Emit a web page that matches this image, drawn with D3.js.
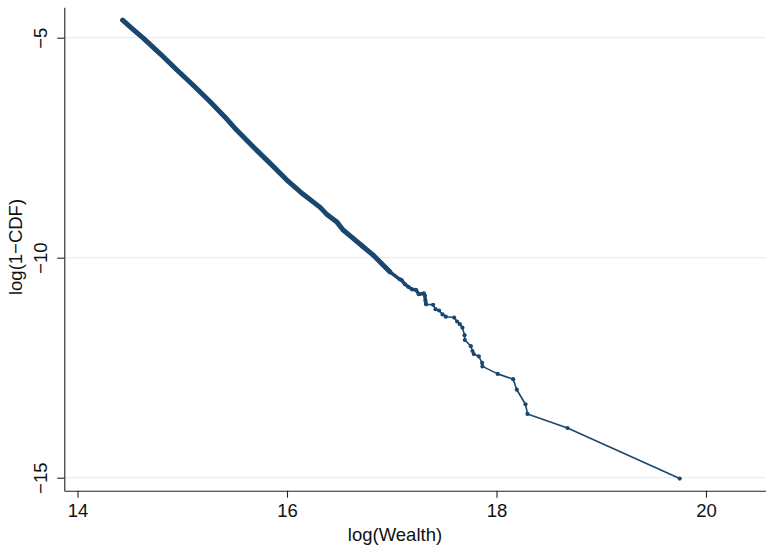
<!DOCTYPE html>
<html>
<head>
<meta charset="utf-8">
<script src="https://cdn.jsdelivr.net/npm/d3@7"></script>
<style>
  html, body { margin: 0; padding: 0; background: #fff; }
  svg { display: block; font-family: "Liberation Sans", Arial, Helvetica, sans-serif; }
</style>
</head>
<body>
<svg id="chart" width="766" height="546"></svg>
<script>
// log(Wealth) vs log(1-CDF)
const logWealth = [
  14.431, 14.53, 14.628, 14.787, 14.947, 15.105, 15.264, 15.407, 15.519,
  15.677, 15.837, 15.996, 16.155, 16.314, 16.378, 16.473, 16.536, 16.632,
  16.727, 16.823, 16.903, 16.982, 17.077, 17.094, 17.125, 17.157, 17.195, 17.23,
  17.259, 17.306, 17.316, 17.322, 17.328, 17.395, 17.418, 17.452, 17.485, 17.516,
  17.596, 17.624, 17.65, 17.675, 17.695, 17.698, 17.755, 17.771, 17.783, 17.831,
  17.863, 17.866, 18.012, 18.159, 18.194, 18.277, 18.296, 18.678, 19.749
]
const logSurvival = [
  -4.6, -4.81, -5.01, -5.36, -5.73, -6.08, -6.45, -6.8, -7.1,
  -7.48, -7.85, -8.23, -8.56, -8.85, -9.01, -9.18, -9.37, -9.56,
  -9.75, -9.94, -10.13, -10.32, -10.49, -10.51, -10.6, -10.66, -10.72, -10.73,
  -10.83, -10.81, -10.86, -10.98, -11.06, -11.07, -11.17, -11.2, -11.29, -11.34,
  -11.36, -11.45, -11.51, -11.59, -11.76, -11.87, -12.01, -12.12, -12.19, -12.24,
  -12.39, -12.47, -12.64, -12.76, -13.0, -13.33, -13.55, -13.87, -15.02
]
const xTicks = [14, 16, 18, 20]
const yTicks = [-15, -10, -5]
const xTitle = "log(Wealth)"
const yTitle = "log(1\u2212CDF)"

const navy = "#1a476f"
const denseEnd = 17.05 // markers overlap into a solid band up to here
const halfDenseEnd = 17.35

const svg = d3.select("#chart")
const x = d3.scaleLinear().domain([13.874, 20.573]).range([64.3, 766])
const y = d3.scaleLinear().domain([-15.295, -4.309]).range([490.7, 7.3])

const pts = logWealth.map((v, i) => ({ x: v, y: logSurvival[i] }))

// grid lines
svg.append("g")
  .selectAll("line")
  .data(yTicks)
  .join("line")
  .attr("x1", x.range()[0])
  .attr("x2", x.range()[1])
  .attr("y1", (d) => y(d))
  .attr("y2", (d) => y(d))
  .attr("stroke", "#e6eef1")
  .attr("stroke-width", 1.2)

// axes
const fmt = (d) => d3.format("d")(d)
const xAxis = svg.append("g")
  .attr("transform", `translate(0,${y.range()[0]})`)
  .call(d3.axisBottom(x).tickValues(xTicks).tickSize(7).tickSizeOuter(0).tickPadding(5).tickFormat(fmt))
const yAxis = svg.append("g")
  .attr("transform", `translate(${x.range()[0]},0)`)
  .call(d3.axisLeft(y).tickValues(yTicks).tickSize(7).tickSizeOuter(0).tickFormat(fmt))

;[xAxis, yAxis].forEach((g) => {
  g.select(".domain").attr("stroke", "#222").attr("stroke-width", 1.1)
  g.selectAll(".tick line").attr("stroke", "#222").attr("stroke-width", 1.1)
  g.selectAll(".tick text")
    .attr("fill", "#111")
    .style("font-size", "18.5px")
    .style("font-family", "'Liberation Sans', Arial, sans-serif")
})

xAxis.selectAll(".tick text").attr("dy", "0.71em").attr("y", 13)

// vertical y tick labels, reading bottom to top
yAxis.selectAll(".tick text")
  .attr("x", null)
  .attr("dy", null)
  .attr("text-anchor", "middle")
  .attr("transform", "translate(-17.8,0) rotate(-90)")

// axis titles
svg.append("text")
  .attr("x", 395)
  .attr("y", 541)
  .attr("text-anchor", "middle")
  .attr("fill", "#111")
  .style("font-size", "18.5px")
  .text(xTitle)

svg.append("text")
  .attr("transform", `translate(22,247) rotate(-90)`)
  .attr("text-anchor", "middle")
  .attr("fill", "#111")
  .style("font-size", "18.5px")
  .text(yTitle)

// the series
const line = d3.line().x((d) => x(d.x)).y((d) => y(d.y))
const plot = svg.append("g")

plot.append("path")
  .datum(pts.filter((d) => d.x <= denseEnd))
  .attr("d", line)
  .attr("fill", "none")
  .attr("stroke", navy)
  .attr("stroke-width", 5)
  .attr("stroke-linecap", "round")
  .attr("stroke-linejoin", "round")

plot.append("path")
  .datum(pts.filter((d) => d.x >= denseEnd - 0.1 && d.x <= halfDenseEnd))
  .attr("d", line)
  .attr("fill", "none")
  .attr("stroke", navy)
  .attr("stroke-width", 3.4)
  .attr("stroke-linecap", "round")
  .attr("stroke-linejoin", "round")

plot.append("path")
  .datum(pts)
  .attr("d", line)
  .attr("fill", "none")
  .attr("stroke", navy)
  .attr("stroke-width", 1.6)
  .attr("stroke-linejoin", "round")

plot.selectAll("circle")
  .data(pts)
  .join("circle")
  .attr("cx", (d) => x(d.x))
  .attr("cy", (d) => y(d.y))
  .attr("r", 2.1)
  .attr("fill", navy)
</script>
</body>
</html>
